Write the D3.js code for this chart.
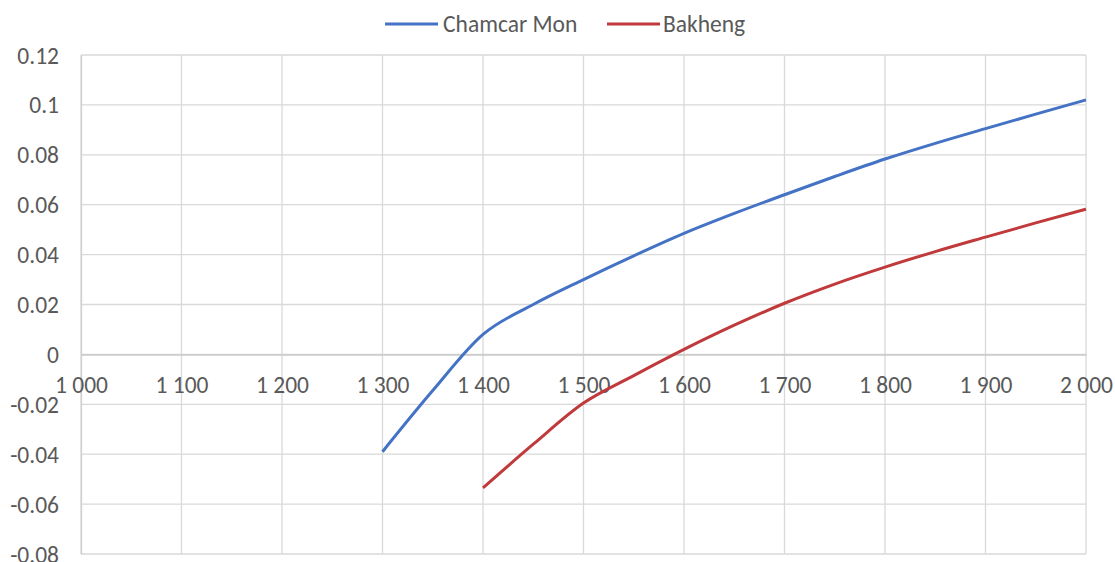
<!DOCTYPE html>
<html>
<head>
<meta charset="utf-8">
<script src="https://cdn.jsdelivr.net/npm/d3@7"></script>
<style>
  html, body { margin: 0; padding: 0; background: #fff; }
  svg text { font-family: Carlito, Calibri, "Open Sans", sans-serif; fill: #595959; }
</style>
</head>
<body>
<svg id="chart" width="1115" height="562"></svg>
<script>
// Elevation (m) sampled every 50 m
const elevations = [1300, 1350, 1400, 1450, 1500, 1550, 1600, 1650, 1700, 1750, 1800, 1850, 1900, 1950, 2000];
const chamcarMon = [-0.039, -0.0145, 0.008, 0.02, 0.03, 0.0395, 0.0485, 0.0565, 0.064, 0.0713, 0.0783, 0.0846, 0.0905, 0.0963, 0.102];
const bakhengX = [1400, 1450, 1500, 1550, 1600, 1650, 1700, 1750, 1800, 1850, 1900, 1950, 2000];
const bakheng = [-0.0535, -0.036, -0.0195, -0.0085, 0.002, 0.0117, 0.0205, 0.0282, 0.035, 0.0412, 0.047, 0.0527, 0.0582];

const xTicks = [1000, 1100, 1200, 1300, 1400, 1500, 1600, 1700, 1800, 1900, 2000];
const yTicks = [-0.08, -0.06, -0.04, -0.02, 0, 0.02, 0.04, 0.06, 0.08, 0.1, 0.12];

const seriesNames = ["Chamcar Mon", "Bakheng"];
const seriesColors = ["#4472c4", "#c0393b"];

const W = 1115, H = 562;
const margin = { top: 55, right: 29, bottom: 8, left: 81 };
const fontSize = 23.5;

const svg = d3.select("#chart");

const x = d3.scaleLinear().domain([1000, 2000]).range([margin.left, W - margin.right]);
const y = d3.scaleLinear().domain([-0.08, 0.12]).range([H - margin.bottom, margin.top]);

const locale = d3.formatLocale({ decimal: ".", thousands: " ", grouping: [3], currency: ["", ""], minus: "-" });
const fmtX = locale.format(",");
const fmtY = d => String(+d.toFixed(2));

// Gridlines
const grid = svg.append("g");
grid.selectAll("line.h").data(yTicks).join("line")
  .attr("x1", x(1000)).attr("x2", x(2000))
  .attr("y1", d => y(d)).attr("y2", d => y(d))
  .attr("stroke", "#d9d9d9").attr("stroke-width", 1.3);
grid.selectAll("line.v").data(xTicks).join("line")
  .attr("x1", d => x(d)).attr("x2", d => x(d))
  .attr("y1", y(0.12)).attr("y2", y(-0.08))
  .attr("stroke", "#d9d9d9").attr("stroke-width", 1.3);

// Y axis labels
const yAxis = d3.axisLeft(y).tickValues(yTicks).tickFormat(fmtY).tickSize(0).tickPadding(22);
svg.append("g").attr("transform", `translate(${margin.left},0)`).call(yAxis)
  .call(g => g.select(".domain").attr("stroke", "#d0d0d0").attr("stroke-width", 1.3))
  .call(g => g.selectAll("text").attr("font-size", fontSize).attr("dy", "0.34em"));

// X axis crossing at zero
const xAxis = d3.axisBottom(x).tickValues(xTicks).tickFormat(fmtX).tickSize(0).tickPadding(22);
svg.append("g").attr("transform", `translate(0,${y(0)})`).call(xAxis)
  .call(g => g.select(".domain").attr("stroke", "#c8c8c8").attr("stroke-width", 1.5))
  .call(g => g.selectAll("text").attr("font-size", fontSize));

// Lines
const line = d3.line().x(d => x(d[0])).y(d => y(d[1])).curve(d3.curveMonotoneX);
const series = [
  d3.zip(elevations, chamcarMon),
  d3.zip(bakhengX, bakheng)
];
svg.append("g").selectAll("path").data(series).join("path")
  .attr("d", line)
  .attr("fill", "none")
  .attr("stroke", (d, i) => seriesColors[i])
  .attr("stroke-width", 3)
  .attr("stroke-linejoin", "round");

// Legend
const legendItems = [
  { x1: 385, x2: 438, tx: 443 },
  { x1: 607, x2: 660, tx: 663 }
];
const lg = svg.append("g");
legendItems.forEach((p, i) => {
  lg.append("line").attr("x1", p.x1).attr("x2", p.x2).attr("y1", 24).attr("y2", 24)
    .attr("stroke", seriesColors[i]).attr("stroke-width", 3);
  lg.append("text").attr("x", p.tx).attr("y", 24).attr("dy", "0.35em")
    .attr("font-size", fontSize).text(seriesNames[i]);
});
</script>
</body>
</html>
